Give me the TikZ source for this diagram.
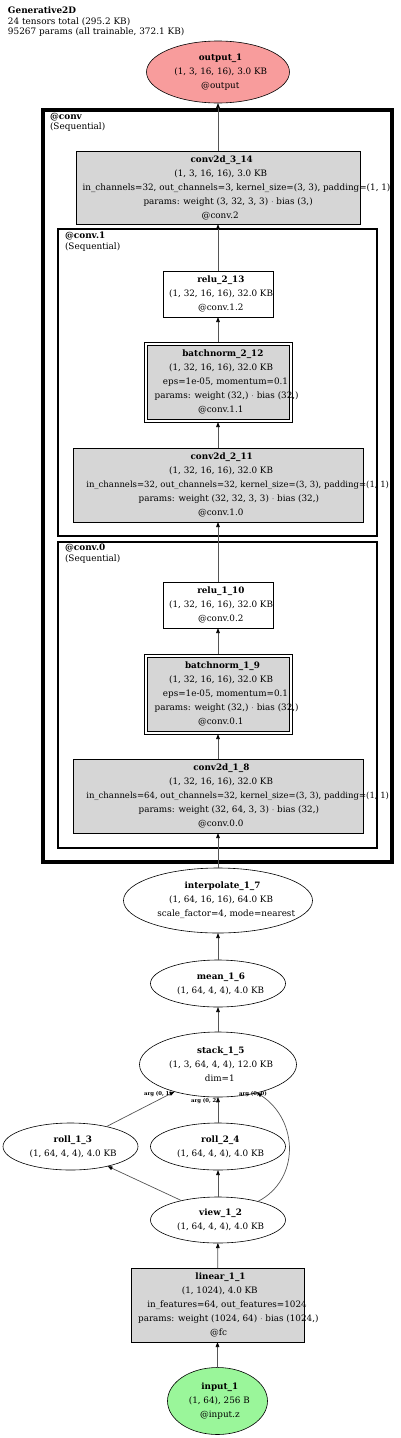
\documentclass[tikz,border=0pt]{standalone}
\usepackage{fontspec}
\setmainfont{DejaVu Serif}
\usetikzlibrary{shapes.geometric,arrows.meta}
\definecolor{boxgray}{RGB}{214,214,214}
\definecolor{outred}{RGB}{248,156,156}
\definecolor{ingreen}{RGB}{154,246,154}
\definecolor{edgegray}{RGB}{85,85,85}
\newcommand{\gv}[2][0.88]{\makebox[#1\width][l]{#2}}
\newcommand{\narrow}{\fontsize{8.5}{14}\selectfont}
\begin{document}
\begin{tikzpicture}[x=1pt,y=-1pt,
  every node/.style={font=\fontsize{8.8}{14}\selectfont, inner sep=0pt, outer sep=0pt, align=center},
  box/.style={draw, rectangle, fill=boxgray, line width=0.6pt},
  wbox/.style={draw, rectangle, fill=white, line width=0.6pt},
  dbox/.style={draw, rectangle, fill=white, line width=0.6pt,
    path picture={\draw[fill=boxgray, line width=0.6pt]
      ([shift={(3pt,3pt)}]path picture bounding box.south west) rectangle
      ([shift={(-3pt,-3pt)}]path picture bounding box.north east);}},
  ell/.style={draw, ellipse, line width=0.6pt},
  arr/.style={draw=edgegray, line width=0.7pt, -{Triangle[length=5pt,width=3.6pt,color=black]}},
  clusA/.style={draw, line width=3.5pt},
  clusB/.style={draw, line width=2.8pt},
  clab/.style={anchor=west, font=\fontsize{8.9}{10.5}\selectfont, align=left},
  arglab/.style={font=\bfseries\fontsize{5.3}{6}\selectfont}
]
\useasboundingbox (0,0) rectangle (400,1438);

% title
\node[clab, anchor=north west] (title) at (8,7) {\textbf{Generative2D}\\24 tensors total (295.2 KB)\\95267 params (all trainable, 372.1 KB)};

% clusters
\draw[clusA] (43,110) rectangle (392,862);
\node[clab, anchor=north west] (lconv) at (50,113) {\textbf{@conv}\\(Sequential)};
\draw[clusB] (58,229) rectangle (377,536);
\node[clab, anchor=north west] (lconv1) at (65,232) {\textbf{@conv.1}\\(Sequential)};
\draw[clusB] (58,542) rectangle (377,848);
\node[clab, anchor=north west] (lconv0) at (65,544) {\textbf{@conv.0}\\(Sequential)};

% nodes
\node[ell, fill=outred, minimum width=143, minimum height=62,
  label={center:{\gv{\textbf{output\_1}}\\\gv[0.94]{(1, 3, 16, 16), 3.0 KB}\\\gv{@output}}}] (output) at (218,72) {};

\node[box, minimum width=284, minimum height=73,
  label={center:{\gv{\textbf{conv2d\_3\_14}}\\\gv[0.94]{(1, 3, 16, 16), 3.0 KB}\\\gv[0.88]{in\_channels=32, out\_channels=3, kernel\_size=(3, 3), padding=(1, 1)}\\\gv{params: weight (3, 32, 3, 3) $\cdot$ bias (3,)}\\\gv{@conv.2}}}] (c314) at (218,187.5) {};

\node[wbox, minimum width=110, minimum height=46,
  label={center:{\gv{\textbf{relu\_2\_13}}\\\gv[0.94]{(1, 32, 16, 16), 32.0 KB}\\\gv{@conv.1.2}}}] (r213) at (218,294) {};

\node[dbox, minimum width=148, minimum height=80,
  label={center:{\gv{\textbf{batchnorm\_2\_12}}\\\gv[0.94]{(1, 32, 16, 16), 32.0 KB}\\\gv{eps=1e-05, momentum=0.1}\\\gv{params: weight (32,) $\cdot$ bias (32,)}\\\gv{@conv.1.1}}}] (b212) at (218,382) {};

\node[box, minimum width=290, minimum height=74,
  label={center:{\gv{\textbf{conv2d\_2\_11}}\\\gv[0.94]{(1, 32, 16, 16), 32.0 KB}\\\gv[0.87]{\narrow in\_channels=32, out\_channels=32, kernel\_size=(3, 3), padding=(1, 1)}\\\gv{params: weight (32, 32, 3, 3) $\cdot$ bias (32,)}\\\gv{@conv.1.0}}}] (c211) at (218,485) {};

\node[wbox, minimum width=110, minimum height=46,
  label={center:{\gv{\textbf{relu\_1\_10}}\\\gv[0.94]{(1, 32, 16, 16), 32.0 KB}\\\gv{@conv.0.2}}}] (r110) at (218,605) {};

\node[dbox, minimum width=148, minimum height=80,
  label={center:{\gv{\textbf{batchnorm\_1\_9}}\\\gv[0.94]{(1, 32, 16, 16), 32.0 KB}\\\gv{eps=1e-05, momentum=0.1}\\\gv{params: weight (32,) $\cdot$ bias (32,)}\\\gv{@conv.0.1}}}] (b19) at (218,694) {};

\node[box, minimum width=290, minimum height=74,
  label={center:{\gv{\textbf{conv2d\_1\_8}}\\\gv[0.94]{(1, 32, 16, 16), 32.0 KB}\\\gv[0.87]{\narrow in\_channels=64, out\_channels=32, kernel\_size=(3, 3), padding=(1, 1)}\\\gv{params: weight (32, 64, 3, 3) $\cdot$ bias (32,)}\\\gv{@conv.0.0}}}] (c18) at (218,796) {};

\node[ell, minimum width=189, minimum height=65,
  label={center:{\gv{\textbf{interpolate\_1\_7}}\\\gv[0.94]{(1, 64, 16, 16), 64.0 KB}\\\gv{scale\_factor=4, mode=nearest}}}] (interp) at (218,900.5) {};

\node[ell, minimum width=135, minimum height=47,
  label={center:{\gv{\textbf{mean\_1\_6}}\\\gv[0.94]{(1, 64, 4, 4), 4.0 KB}}}] (mean) at (218,983.5) {};

\node[ell, minimum width=157, minimum height=65,
  label={center:{\gv{\textbf{stack\_1\_5}}\\\gv[0.94]{(1, 3, 64, 4, 4), 12.0 KB}\\\gv{dim=1}}}] (stack) at (218,1064.5) {};

\node[ell, minimum width=135, minimum height=47,
  label={center:{\gv{\textbf{roll\_1\_3}}\\\gv[0.94]{(1, 64, 4, 4), 4.0 KB}}}] (roll13) at (70.5,1146.5) {};

\node[ell, minimum width=135, minimum height=47,
  label={center:{\gv{\textbf{roll\_2\_4}}\\\gv[0.94]{(1, 64, 4, 4), 4.0 KB}}}] (roll24) at (218,1146.5) {};

\node[ell, minimum width=135, minimum height=46,
  label={center:{\gv{\textbf{view\_1\_2}}\\\gv[0.94]{(1, 64, 4, 4), 4.0 KB}}}] (view) at (218,1220) {};

\node[box, minimum width=173, minimum height=74,
  label={center:{\gv{\textbf{linear\_1\_1}}\\\gv[0.94]{(1, 1024), 4.0 KB}\\\gv{in\_features=64, out\_features=1024}\\\gv{params: weight (1024, 64) $\cdot$ bias (1024,)}\\\gv{@fc}}}] (linear) at (217.5,1305) {};

\node[ell, fill=ingreen, minimum width=100, minimum height=67,
  label={center:{\gv{\textbf{input\_1}}\\\gv[0.94]{(1, 64), 256 B}\\\gv{@input.z}}}] (input) at (217.5,1401) {};

% edges
\draw[arr] (input) -- (linear);
\draw[arr] (linear) -- (view);
\draw[arr] (view) -- (roll24);
\draw[arr] (view.152) -- (roll13.-28);
\draw[arr] (roll24) -- (stack);
\draw[arr] (roll13.29) -- (stack.-148);
\draw[arr] (view.25) .. controls (300,1180) and (299,1120) .. (stack.-36);
\draw[arr] (stack) -- (mean);
\draw[arr] (mean) -- (interp);
\draw[arr] (interp) -- (c18);
\draw[arr] (c18) -- (b19);
\draw[arr] (b19) -- (r110);
\draw[arr] (r110) -- (c211);
\draw[arr] (c211) -- (b212);
\draw[arr] (b212) -- (r213);
\draw[arr] (r213) -- (c314);
\draw[arr] (c314) -- (output);

% edge labels
\node[arglab] (a01) at (158,1094) {arg (0, 1)};
\node[arglab] (a02) at (205,1101) {arg (0, 2)};
\node[arglab] (a00) at (253,1094) {arg (0, 0)};
\end{tikzpicture}
\end{document}
